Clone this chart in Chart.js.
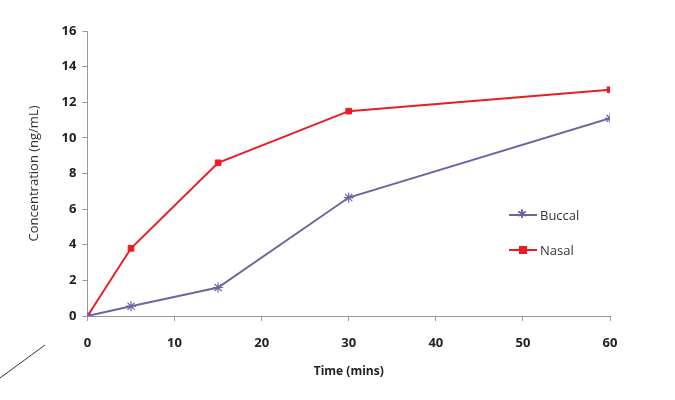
<!DOCTYPE html>
<html>
<head>
<meta charset="utf-8">
<script src="https://cdn.jsdelivr.net/npm/chart.js@4.4.1/dist/chart.umd.min.js"></script>
<style>
    body { margin: 0; background: #fff; }
    #wrap { position: relative; width: 675px; height: 400px; }
    #legend { position: absolute; left: 509px; top: 206px; font-family: "Open Sans", Calibri, sans-serif; font-size: 13px; color: #333; }
    #legend div { display: flex; align-items: center; height: 18px; margin-bottom: 17px; }
    #legend span.sw { position: relative; width: 28px; height: 2px; margin-right: 3px; }
</style>
</head>
<body>
<div id="wrap">
    <canvas id="pkChart" width="675" height="400"></canvas>
    <div id="legend"></div>
</div>
<script>
// Time points and plasma concentrations
const timeMins = [0, 5, 15, 30, 60];
const buccal = [0, 0.55, 1.6, 6.65, 11.1];
const nasal = [0, 3.8, 8.6, 11.5, 12.7];
const yTicks = [0, 2, 4, 6, 8, 10, 12, 14, 16];
const xTicks = [0, 10, 20, 30, 40, 50, 60];

const toPoints = (vals) => timeMins.map((t, i) => ({ x: t, y: vals[i] }));

// stray scan line in the bottom-left corner
const strayLine = {
    id: "strayLine",
    afterDraw(chart) {
        const c = chart.ctx;
        c.save();
        c.strokeStyle = "#333";
        c.lineWidth = 1;
        c.beginPath();
        c.moveTo(0, 378);
        c.lineTo(45, 345);
        c.stroke();
        c.restore();
    },
};

const ctx = document.getElementById("pkChart");
const chart = new Chart(ctx, {
    type: "line",
    data: {
        datasets: [
            {
                label: "Buccal",
                data: toPoints(buccal),
                borderColor: "#6A66A3",
                backgroundColor: "#6A66A3",
                borderWidth: 2,
                pointStyle: "star",
                pointRadius: 5,
                pointBorderWidth: 1.2,
            },
            {
                label: "Nasal",
                data: toPoints(nasal),
                borderColor: "#EC1C24",
                backgroundColor: "#EC1C24",
                borderWidth: 2,
                pointStyle: "rect",
                pointRadius: 4,
                pointBorderWidth: 1,
            },
        ],
    },
    options: {
        responsive: false,
        animation: false,
        layout: { padding: { top: 31, right: 65, left: 22, bottom: 17 } },
        plugins: {
            legend: { display: false },
            tooltip: { enabled: false },
        },
        scales: {
            x: {
                type: "linear",
                min: 0,
                max: 60,
                afterBuildTicks: (axis) => { axis.ticks = xTicks.map((v) => ({ value: v })); },
                border: { color: "#999", width: 1 },
                grid: { drawOnChartArea: false, tickLength: 5, color: "#999" },
                ticks: { color: "#222", padding: 14, font: { family: "Open Sans", size: 13, weight: "bold" } },
                title: { display: true, text: "Time (mins)", color: "#222", padding: { top: 0 }, font: { family: "Open Sans", size: 12, weight: "bold" } },
            },
            y: {
                min: 0,
                max: 16,
                afterBuildTicks: (axis) => { axis.ticks = yTicks.map((v) => ({ value: v })); },
                border: { color: "#999", width: 1 },
                grid: { drawOnChartArea: false, tickLength: 5, color: "#999" },
                ticks: { color: "#222", padding: 6, font: { family: "Open Sans", size: 13, weight: "bold" } },
                title: { display: true, text: "Concentration (ng/mL)", color: "#333", padding: { bottom: 14 }, font: { family: "Open Sans", size: 13 } },
            },
        },
    },
    plugins: [strayLine],
});

// legend built from the datasets
const legendEl = document.getElementById("legend");
chart.data.datasets.forEach((ds) => {
    const row = document.createElement("div");
    const sw = document.createElement("span");
    sw.className = "sw";
    sw.style.background = ds.borderColor;
    const mark = document.createElement("span");
    if (ds.pointStyle === "rect") {
        mark.style.cssText = "position:absolute;left:10px;top:-3px;width:8px;height:8px;background:" + ds.borderColor;
    } else {
        mark.textContent = "\u2731";
        mark.style.cssText = "position:absolute;left:8px;top:-8px;font-size:12px;line-height:16px;color:" + ds.borderColor;
    }
    sw.appendChild(mark);
    row.appendChild(sw);
    row.appendChild(document.createTextNode(ds.label));
    legendEl.appendChild(row);
});
</script>
</body>
</html>
